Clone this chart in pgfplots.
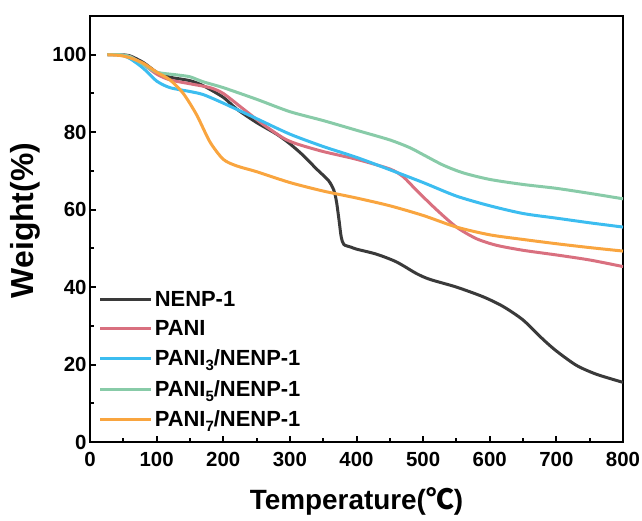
\documentclass[border=0pt]{standalone}
\usepackage{fontspec}
\setmainfont{Liberation Sans}
\newfontfamily\cjk{Noto Sans CJK SC}
\usepackage{pgfplots}
\pgfplotsset{compat=1.18}

\definecolor{cNenp}{RGB}{58,58,58}
\definecolor{cPani}{RGB}{217,112,127}
\definecolor{cPaniT}{RGB}{60,189,240}
\definecolor{cPaniF}{RGB}{136,203,168}
\definecolor{cPaniS}{RGB}{249,165,63}
\newcommand{\sub}[1]{\raisebox{-5bp}{\fontsize{15}{15}\selectfont #1}}

\begin{document}
\begin{tikzpicture}
\begin{axis}[
name=ax,
width=533bp,height=426bp,scale only axis,
xmin=0,xmax=800,ymin=0,ymax=110,
xtick={0,100,...,800},ytick={0,20,...,100},
minor x tick num=1,minor y tick num=1,
xtick pos=left,ytick pos=left,tick align=inside,
major tick length=6bp,minor tick length=4bp,
every tick/.style={black,line width=2bp},
axis line style={line width=2.5bp},
tick label style={font=\fontsize{20.5}{24}\selectfont\bfseries},
xticklabel style={yshift=-7bp},
/pgf/number format/assume math mode=true,
xlabel={Temperature({\cjk ℃})},
ylabel={Weight(\%)},
xlabel style={font=\fontsize{28}{32}\selectfont\bfseries,yshift=-14bp},
ylabel style={font=\fontsize{32}{36}\selectfont\bfseries,at={(ticklabel cs:0.52)},yshift=5bp},
legend cell align=left,
legend image code/.code={\draw[#1,line width=3bp] (0bp,0bp) -- (51bp,0bp);},
legend style={at={(axis cs:13,3)},anchor=south west,draw=none,fill=none,
  font=\fontsize{22}{26}\selectfont\bfseries,row sep=9bp,inner sep=0pt},
every axis plot/.append style={line width=3bp,smooth,tension=0.45}
]
\addplot[cNenp] coordinates {
(26,100)(45,100)(60,99.7)(80,98)(100,95.5)(120,94.2)(150,93.3)(170,92)(200,89)
(220,86)(250,82.5)(280,79.5)(300,77)(320,74)(340,70.5)(358,67.5)(366,65)
(370,62)(374,57)(377,53)(381,51)(392,50.3)(400,49.8)(430,48.5)(460,46.5)
(490,43.5)(510,42)(550,40)(590,37.5)(620,35)(650,31.5)(680,26.5)(700,23.5)
(730,19.8)(760,17.5)(800,15.4)};
\addlegendentry{NENP-1}
\addplot[cPani] coordinates {
(26,100)(45,100)(60,99.5)(80,97.5)(100,95)(120,93.5)(150,92.5)(180,91.5)(200,90)
(230,86)(260,82)(290,78.5)(310,77)(350,75)(400,73)(450,70.5)(470,68.5)(490,65)
(520,60)(550,55.5)(580,52.5)(610,50.8)(650,49.5)(700,48.3)(750,47)(800,45.3)};
\addlegendentry{PANI}
\addplot[cPaniT] coordinates {
(26,100)(45,100)(60,99)(80,96.5)(100,93.2)(120,91.5)(150,90.5)(170,89.7)(200,87.5)
(250,83.5)(300,79.5)(350,76.3)(400,73.5)(450,70.3)(500,67)(550,63.5)(600,61)
(650,59)(700,57.8)(750,56.6)(800,55.5)};
\addlegendentry{PANI\sub{3}/NENP-1}
\addplot[cPaniF] coordinates {
(26,100)(45,100)(60,99.5)(80,97.5)(100,95.5)(130,94.8)(150,94.3)(170,93)(200,91.5)
(250,88.5)(300,85.3)(350,83)(400,80.5)(450,78)(480,76)(500,74.2)(530,71.5)
(560,69.5)(600,67.8)(650,66.5)(700,65.5)(750,64.2)(800,62.8)};
\addlegendentry{PANI\sub{5}/NENP-1}
\addplot[cPaniS] coordinates {
(26,100)(45,99.8)(60,99.2)(80,97.8)(100,95.5)(120,93.5)(140,90)(160,84.5)(180,77.5)
(200,73)(220,71.3)(250,69.8)(300,67)(350,64.8)(400,63)(450,61)(500,58.5)
(550,55.5)(600,53.5)(650,52.3)(700,51.2)(750,50.2)(800,49.3)};
\addlegendentry{PANI\sub{7}/NENP-1}
\end{axis}
\pgfresetboundingbox
\path ([shift={(-90bp,-79bp)}]ax.south west) rectangle ([shift={(19bp,16bp)}]ax.north east);
\end{tikzpicture}
\end{document}
